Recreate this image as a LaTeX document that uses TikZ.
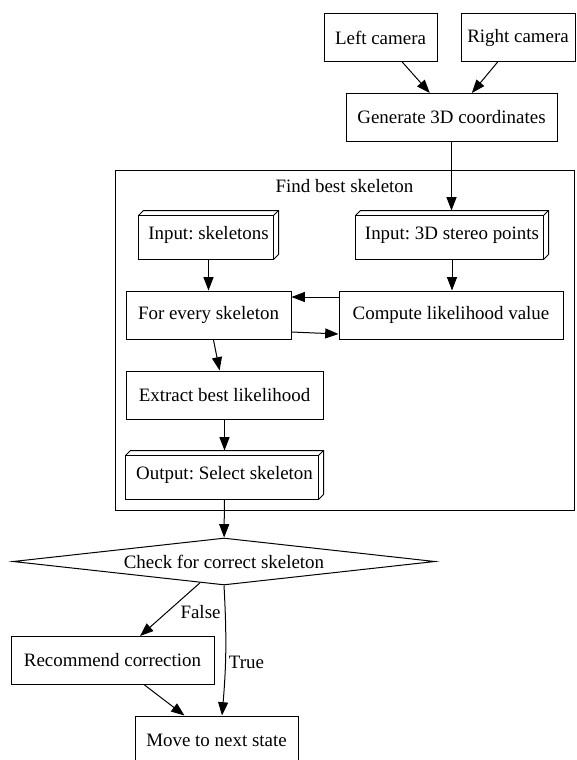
\documentclass[tikz,border=0pt]{standalone}
\usepackage{fontspec}
\setmainfont{Liberation Serif}
\usepackage{tikz}
\usetikzlibrary{arrows.meta,shapes.geometric,positioning}
\tikzset{>={Triangle[length=10pt,width=7.5pt]}}
\tikzset{
  stepbox/.style={draw, minimum height=36pt, inner sep=0pt, font=\fontsize{14.2}{16}\selectfont},
  cubebox/.style={stepbox, draw=none},
  decision/.style={stepbox, diamond, shape aspect=9},
  edgelabel/.style={inner sep=0pt, font=\fontsize{14.2}{16}\selectfont}
}
\frenchspacing

\begin{document}
\begin{tikzpicture}[x=0.75pt,y=-0.75pt,line width=0.75pt]
                \useasboundingbox (0,0) rectangle (576,760);
                % sources
                \node[stepbox, minimum width=84.75pt] (lcam) at (380.5,37.5) {Left camera};
                \node[stepbox, minimum width=85.5pt] (rcam) at (518,37.5) {Right camera};
                \node[stepbox, minimum width=158.25pt] (gen) at (451.5,117.5) {Generate 3D coordinates};
                % cluster
                \draw (115,170) rectangle (574,510);
                \node[edgelabel] (fbs) at (344.5,186) {Find best skeleton};
                \node[cubebox, minimum width=104.25pt] (inskel) at (208.5,235) {Input: skeletons};
                \node[cubebox, minimum width=144pt] (inpts) at (452,235) {Input: 3D stereo points};
                \node[stepbox, minimum width=123.75pt] (forev) at (208.5,315) {For every skeleton};
                \node[stepbox, minimum width=168pt] (comp) at (451,315) {Compute likelihood value};
                \node[stepbox, minimum width=147.75pt] (extr) at (224.5,395) {Extract best likelihood};
                \node[cubebox, minimum width=147.75pt] (outsel) at (224.5,475) {Output: Select skeleton};
                \foreach \n in {inskel,inpts,outsel} {
                    \draw ([shift={(0,5)}]\n.north west) rectangle ([shift={(-5,0)}]\n.south east);
                    \draw ([shift={(0,5)}]\n.north west) -- ([shift={(5,0)}]\n.north west) -- (\n.north east)
                        -- ([shift={(0,-5)}]\n.south east) -- ([shift={(-5,0)}]\n.south east);
                    \draw ([shift={(-5,5)}]\n.north east) -- (\n.north east);
                }
                % decision
                \node[decision, minimum width=316.5pt, minimum height=35.25pt] (check) at (224,561.5) {Check for correct skeleton};
                \node[stepbox, minimum width=152.25pt] (recom) at (112.5,660.5) {Recommend correction};
                \node[stepbox, minimum width=122.25pt] (move) at (216.5,740) {Move to next state};
                % edges
                \draw[->] (lcam) -- (gen);
                \draw[->] (rcam) -- (gen);
                \draw[->] (gen.south) -- (gen.south |- inpts.north);
                \draw[->] (inskel) -- (forev);
                \draw[->] (inpts.south) -- (inpts.south |- comp.north);
                \draw[->] ([shift={(0,-18)}]comp.west) -- ([shift={(0,-18)}]forev.east);
                \draw[->] ([shift={(0,17)}]forev.east) -- ([shift={(0,19)}]comp.west);
                \draw[->] (forev) -- (extr);
                \draw[->] (extr) -- (outsel);
                \draw[->] (outsel) -- (check);
                \draw[->] (check) -- (recom) node[edgelabel, midway, anchor=west, shift={(10,3)}] {False};
                \draw[->] (check.south) to[bend left=4] node[edgelabel, pos=0.6, anchor=west, shift={(3,0)}] {True} ([shift={(5.5,0)}]move.north);
                \draw[->] (recom) -- (move);
            \end{tikzpicture}
\end{document}
